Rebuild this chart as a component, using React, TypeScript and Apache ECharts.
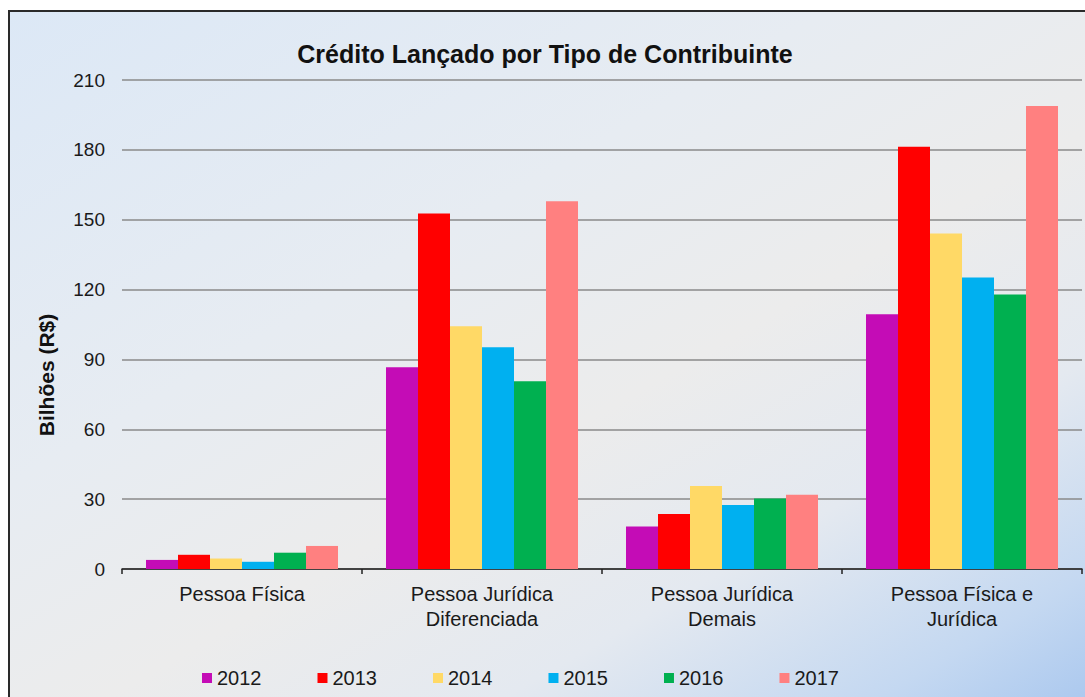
import React, { useEffect, useRef } from "react";
import * as echarts from "echarts";

const categories = [
  "Pessoa Física",
  "Pessoa Jurídica\nDiferenciada",
  "Pessoa Jurídica\nDemais",
  "Pessoa Física e\nJurídica",
];
const years = ["2012", "2013", "2014", "2015", "2016", "2017"];
const colors = ["#c40cb6", "#ff0000", "#ffd966", "#00b0f0", "#00b050", "#ff8080"];
const v2012 = [3.9, 86.6, 18.3, 109.4];
const v2013 = [6.1, 152.7, 23.6, 181.3];
const v2014 = [4.5, 104.2, 35.6, 144.1];
const v2015 = [3.1, 95.2, 27.5, 125.2];
const v2016 = [7.0, 80.6, 30.3, 117.9];
const v2017 = [9.9, 157.9, 31.9, 198.8];
const seriesValues = [v2012, v2013, v2014, v2015, v2016, v2017];
const yTitle = "Bilhões (R$)";
const FONT = "'Liberation Sans', Arial, sans-serif";

export default function App() {
  const ref = useRef<HTMLDivElement>(null);
  useEffect(() => {
    document.body.style.overflow = "hidden";
    const chart = echarts.init(ref.current!, null, { renderer: "svg" });
    chart.setOption({
      animation: false,
      backgroundColor: "transparent",
      textStyle: { fontFamily: FONT, color: "#1a1a1a" },
      title: {
        text: "Crédito Lançado por Tipo de Contribuinte",
        left: 540,
        textAlign: "center",
        top: 36,
        textStyle: { fontFamily: FONT, fontSize: 25, fontWeight: "bold", color: "#111" },
      },
      grid: { left: 122, right: 3, top: 80, bottom: 128, containLabel: false },
      legend: {
        data: years,
        left: 197,
        top: 663,
        itemWidth: 10,
        itemHeight: 10,
        itemGap: 56,
        icon: "rect",
        textStyle: { fontFamily: FONT, fontSize: 20, color: "#1a1a1a" },
      },
      graphic: [
        {
          type: "text",
          x: 46,
          y: 375,
          rotation: Math.PI / 2,
          style: {
            text: yTitle,
            fontFamily: FONT,
            fontSize: 21,
            fontWeight: "bold",
            fill: "#111",
            align: "center",
            verticalAlign: "middle",
          },
        },
      ],
      xAxis: {
        type: "category",
        data: categories,
        axisLine: { lineStyle: { color: "#222", width: 1.5 } },
        axisTick: { show: true, alignWithLabel: false, length: 5, lineStyle: { color: "#222", width: 1.5 } },
        axisLabel: { fontFamily: FONT, fontSize: 20, color: "#1a1a1a", margin: 12, lineHeight: 25 },
      },
      yAxis: {
        type: "value",
        min: 0,
        max: 210,
        interval: 30,
        axisLine: { show: false },
        axisTick: { show: false },
        axisLabel: { fontFamily: FONT, fontSize: 19, color: "#1a1a1a", margin: 17 },
        splitLine: { lineStyle: { color: "#8a8a8a", width: 1.5 } },
      },
      series: years.map((y, i) => ({
        name: y,
        type: "bar",
        data: seriesValues[i],
        barGap: "0%",
        barCategoryGap: "20%",
        itemStyle: { color: colors[i] },
      })),
    });
    return () => chart.dispose();
  }, []);
  return (
    <div style={{ position: "fixed", left: 0, top: 0, width: 1085, height: 697, overflow: "hidden", background: "#fff" }}>
      <div
        style={{
          position: "absolute",
          left: 8,
          top: 10,
          width: 1100,
          height: 720,
          border: "2px solid #2a2a2a",
          boxSizing: "border-box",
          background:
            "linear-gradient(150deg, #dce8f6 0%, #e7ecf2 35%, #ececec 55%, #e4e9f0 72%, #c4d8f1 88%, #a4c4ee 100%)",
        }}
      />
      <div ref={ref} style={{ position: "absolute", left: 0, top: 0, width: 1085, height: 697 }} />
    </div>
  );
}
